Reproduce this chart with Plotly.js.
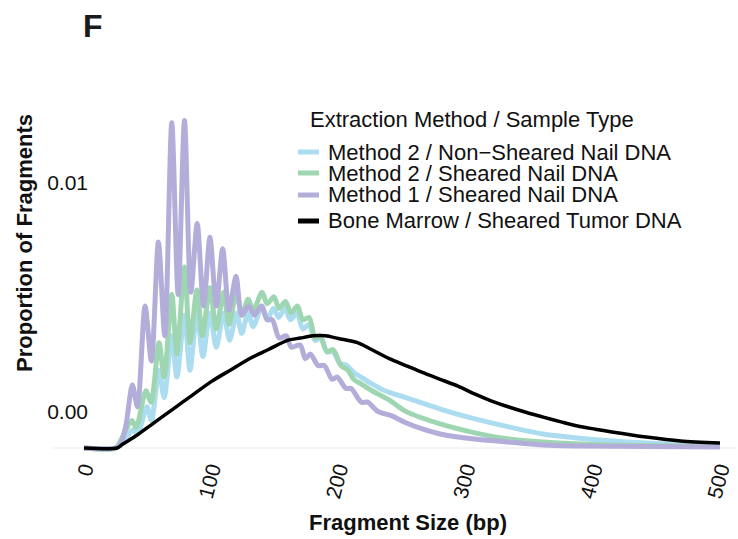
<!DOCTYPE html>
<html>
<head>
<meta charset="utf-8">
<script src="https://cdn.plot.ly/plotly-3.0.1.min.js"></script>
<style>
  html, body { margin: 0; padding: 0; background: #ffffff; }
  #chart { width: 738px; height: 539px; }
</style>
</head>
<body>
<div id="chart"></div>
<script>
// ---------------- data ----------------
const seriesNames = [
  "Method 2 / Non\u2212Sheared Nail DNA",
  "Method 2 / Sheared Nail DNA",
  "Method 1 / Sheared Nail DNA",
  "Bone Marrow / Sheared Tumor DNA"
];
const legendTitle = "Extraction Method / Sample Type";

// Method 2 / Non-Sheared Nail DNA
const m2NonShearedX = [0,25,30,38.5,42,49.5,53,59,63,69,73,79,83.3,88.8,93.5,99,104,109.7,114.5,120,124,129,133,140,144,149,153,158,162.3,167.5,172,177,181.6,186.3,191,195.8,201,206.8,212,217.8,226.4,236.6,253,280,307.4,334,361,387.6,442,500];
const m2NonShearedY = [0,0,0.0002,0.0008,0.0006,0.0018,0.0012,0.0034,0.0022,0.0049,0.0031,0.0058,0.0034,0.0059,0.0040,0.0059,0.0044,0.0059,0.0047,0.0059,0.0050,0.0059,0.0053,0.0062,0.0056,0.0061,0.0057,0.0061,0.0056,0.0059,0.0052,0.0054,0.0047,0.0048,0.0042,0.0042,0.0037,0.0036,0.0033,0.0031,0.0028,0.0025,0.0022,0.0017,0.00127,0.00092,0.00061,0.00044,0.00022,0.00009];

// Method 2 / Sheared Nail DNA
const m2ShearedX = [0,25,29,33,37.7,41,48.7,52.7,59,63,69,73,79,83.3,88.8,93,99,104,109.7,114,119.9,124.2,129,133,140,143.9,149.4,153.3,158.4,162.7,167.8,172,177,181.6,185.5,191,195.8,202,207.5,212,217.8,226.4,239.8,253,280,307.4,334,361,415,500];
const m2ShearedY = [0,0,0.00035,0.0008,0.0012,0.0009,0.0025,0.0020,0.0046,0.0031,0.0067,0.0041,0.0079,0.0046,0.0069,0.0049,0.0070,0.0052,0.0068,0.0054,0.0068,0.0058,0.0065,0.0060,0.0068,0.0063,0.0066,0.0061,0.0064,0.0059,0.0062,0.0056,0.0057,0.0048,0.0049,0.0042,0.0043,0.0036,0.0034,0.0030,0.0028,0.0025,0.0021,0.0016,0.00105,0.00066,0.00039,0.00026,0.00013,0.00009];

// Method 1 / Sheared Nail DNA
const m1ShearedX = [0,25,29,33,38,42,48,53,58.5,63.5,69,74,79,84,89,94,99,104,109,114,119.5,124,129.5,134,139.5,144,148,153.5,159,163,170,174,178,184,189,195,199,206,210,218,223,231,242,253,266,280,307,334,361,388,500];
const m1ShearedY = [0,0,0.0002,0.0010,0.00275,0.0018,0.0062,0.0038,0.0090,0.0049,0.0142,0.0067,0.0143,0.0068,0.0098,0.0062,0.0092,0.0062,0.0087,0.0060,0.0075,0.0058,0.0062,0.0058,0.0062,0.0056,0.0056,0.0048,0.0049,0.0044,0.0045,0.0039,0.0041,0.0036,0.0036,0.0030,0.0031,0.0026,0.0026,0.0020,0.0020,0.0016,0.0014,0.0011,0.00083,0.00061,0.00039,0.00026,0.00013,0.00009,0.00004];

// Bone Marrow / Sheared Tumor DNA
const boneMarrowX = [0,26,30,40,55,70,85,100,115,130,145,160,170,180,190,200,215,226,240,253,266,280,294,307,320,334,348,361,375,388,402,415,442,469,500];
const boneMarrowY = [0,0,0.00015,0.0005,0.0011,0.0017,0.0023,0.0029,0.0034,0.0039,0.0043,0.0047,0.0048,0.0049,0.0049,0.00478,0.0046,0.0043,0.0039,0.0036,0.0033,0.0030,0.0027,0.00236,0.00206,0.00179,0.00155,0.00135,0.00114,0.00096,0.00082,0.0007,0.00048,0.00031,0.00022];

const xTickVals = [0,100,200,300,400,500];
const xTickText = ["0","100","200","300","400","500"];
const yTickVals = [0.00157,0.01157];
const yTickText = ["0.00","0.01"];

// ---------------- styling ----------------
const colors = ["#abdcf0", "#9fd6b2", "#b3aed9", "#000000"];
const widths = [5, 5, 5, 3.5];
const FONT = "Liberation Sans, Arial, Helvetica, sans-serif";

const W = 738, H = 539;
const L = 79, R = 737, T = 34, B = 452;
const pxX = v => (v - L) / (R - L);
const pxY = v => (B - v) / (B - T);

const xs = [m2NonShearedX, m2ShearedX, m1ShearedX, boneMarrowX];
const ys = [m2NonShearedY, m2ShearedY, m1ShearedY, boneMarrowY];

const traces = seriesNames.map((n, i) => ({
  type: "scatter",
  mode: "lines",
  name: n,
  x: xs[i],
  y: ys[i],
  line: { color: colors[i], width: widths[i], shape: "spline", smoothing: 0.8 },
  showlegend: false,
  hoverinfo: "skip"
}));

// manual legend (compact spacing like the reference)
const legRows = [152, 173, 195, 221];
const annotations = [
  { text: "<b>F</b>", xref: "paper", yref: "paper", x: pxX(81), y: pxY(6),
    xanchor: "left", yanchor: "top", showarrow: false,
    font: { family: FONT, size: 32, color: "#1a1a1a" } },
  { text: legendTitle, xref: "paper", yref: "paper", x: pxX(308), y: pxY(120),
    xanchor: "left", yanchor: "middle", showarrow: false,
    font: { family: FONT, size: 22, color: "#111" } }
];
const shapes = [
  // light baseline extending left of the panel
  { type: "line", xref: "paper", yref: "y", x0: pxX(53), x1: 1, y0: 0, y1: 0,
    line: { color: "#ebebeb", width: 1.2 }, layer: "below" }
];
seriesNames.forEach((n, i) => {
  annotations.push({ text: n, xref: "paper", yref: "paper", x: pxX(326), y: pxY(legRows[i]),
    xanchor: "left", yanchor: "middle", showarrow: false,
    font: { family: FONT, size: 22, color: "#111" } });
  shapes.push({ type: "line", xref: "paper", yref: "paper",
    x0: pxX(298), x1: pxX(319), y0: pxY(legRows[i]), y1: pxY(legRows[i]),
    line: { color: colors[i], width: 5 } });
});

const layout = {
  width: W, height: H,
  margin: { l: L, r: W - R, t: T, b: H - B, pad: 0 },
  paper_bgcolor: "#ffffff",
  plot_bgcolor: "#ffffff",
  showlegend: false,
  font: { family: FONT, color: "#111" },
  xaxis: {
    range: [(L - 84) / 1.272, (R - 84) / 1.272],
    tickvals: xTickVals, ticktext: xTickText,
    tickangle: -75,
    tickfont: { family: FONT, size: 21, color: "#111" },
    ticks: "", showgrid: false, zeroline: false, showline: false,
    title: { text: "<b>Fragment Size (bp)</b>", font: { family: FONT, size: 22, color: "#111" }, standoff: 14 }
  },
  yaxis: {
    range: [-4 / 22900, (448 - T) / 22900],
    tickvals: yTickVals, ticktext: yTickText,
    tickfont: { family: FONT, size: 21, color: "#111" },
    ticklabelstandoff: -10,
    ticks: "", showgrid: false, zeroline: false, showline: false,
    title: { text: "<b>Proportion of Fragments</b>", font: { family: FONT, size: 22, color: "#111" }, standoff: 8 }
  },
  annotations: annotations,
  shapes: shapes
};

Plotly.newPlot("chart", traces, layout, { displayModeBar: false, staticPlot: true });
</script>
</body>
</html>
